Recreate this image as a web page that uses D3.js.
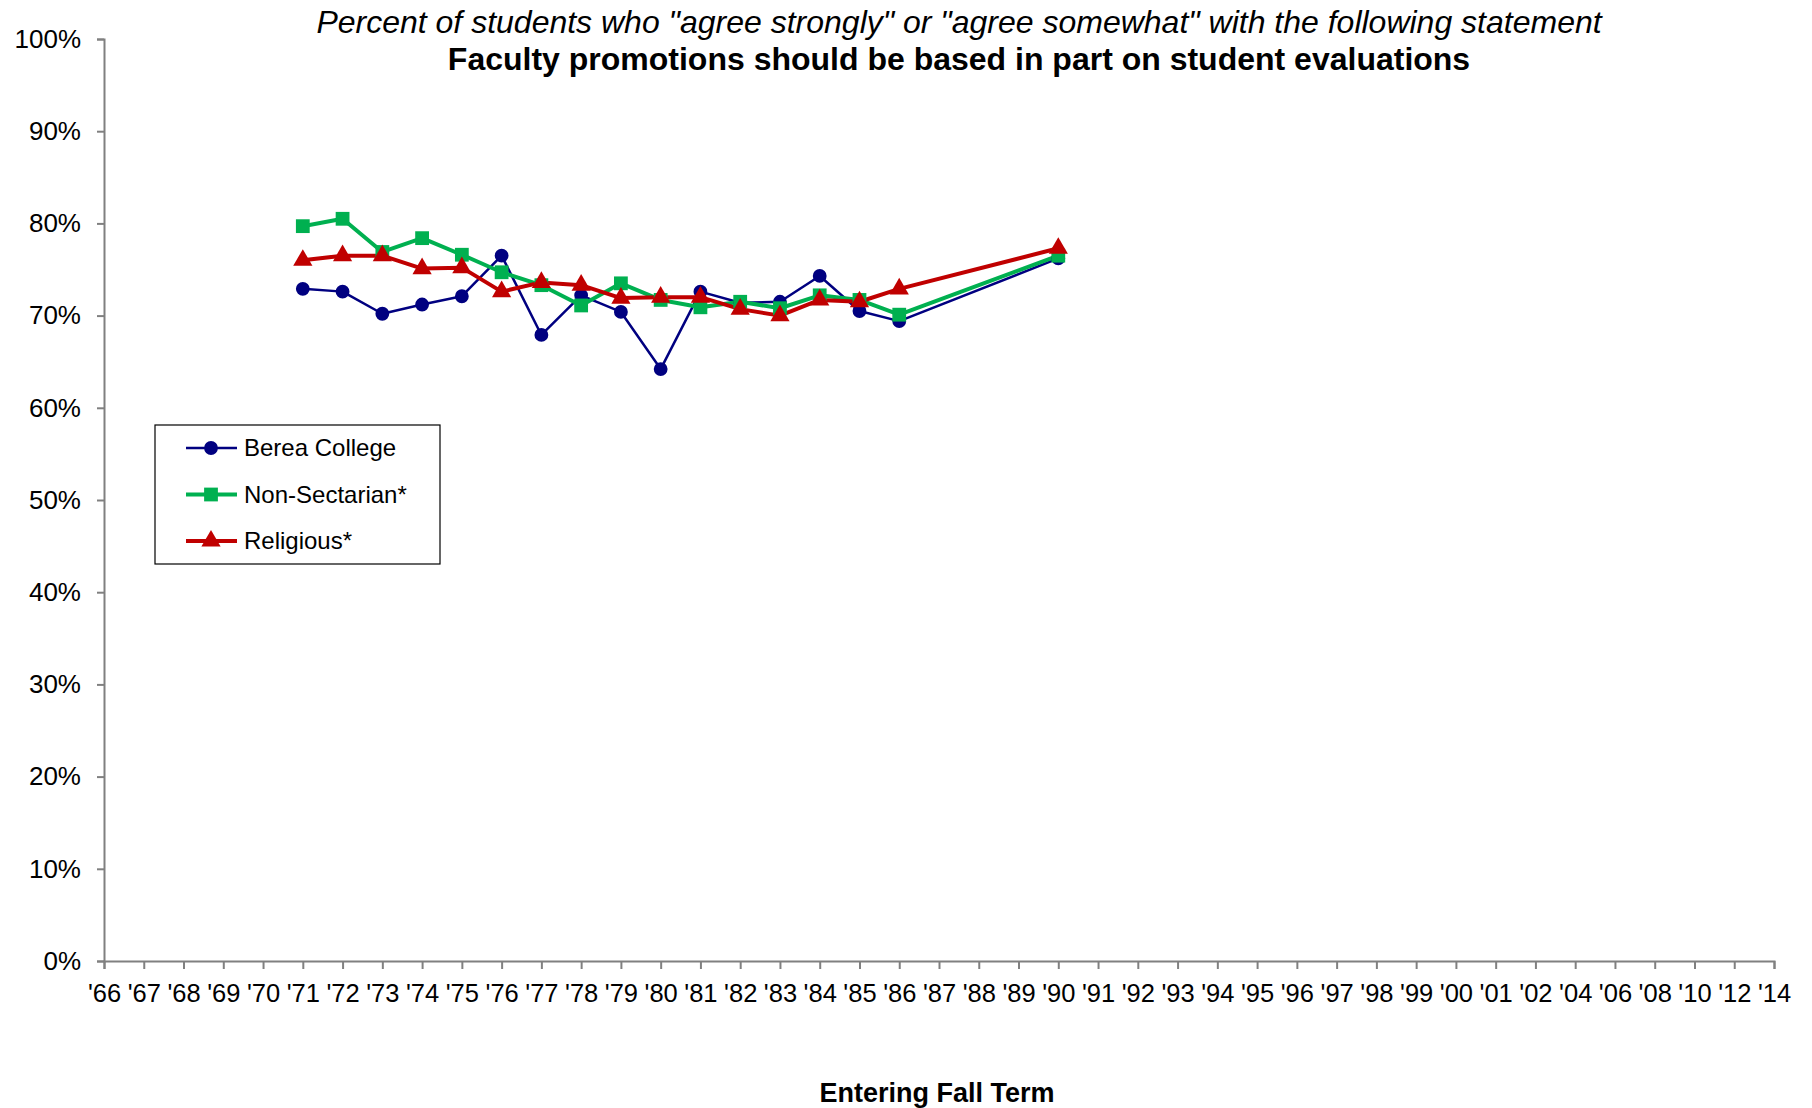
<!DOCTYPE html>
<html>
<head>
<meta charset="utf-8">
<script src="https://cdn.jsdelivr.net/npm/d3@7"></script>
<style>
  html, body { margin: 0; padding: 0; background: #fff; }
  svg { display: block; font-family: "Liberation Sans", Arial, sans-serif; }
</style>
</head>
<body>
<svg id="chart" width="1812" height="1108"></svg>
<script>
const categories = ["'66","'67","'68","'69","'70","'71","'72","'73","'74","'75","'76","'77","'78","'79","'80","'81","'82","'83","'84","'85","'86","'87","'88","'89","'90","'91","'92","'93","'94","'95","'96","'97","'98","'99","'00","'01","'02","'04","'06","'08","'10","'12","'14"];

const dataYears = ["'71","'72","'73","'74","'75","'76","'77","'78","'79","'80","'81","'82","'83","'84","'85","'86","'90"];
const bereaCollege = [72.9, 72.6, 70.2, 71.2, 72.1, 76.5, 67.9, 72.2, 70.4, 64.2, 72.6, 71.4, 71.5, 74.3, 70.5, 69.4, 76.2];
const nonSectarian = [79.7, 80.5, 76.9, 78.4, 76.6, 74.7, 73.3, 71.1, 73.5, 71.7, 70.9, 71.5, 70.8, 72.2, 71.7, 70.1, 76.5];
const religious    = [76.0, 76.5, 76.5, 75.1, 75.2, 72.6, 73.6, 73.3, 71.9, 72.0, 72.0, 70.7, 70.0, 71.7, 71.5, 72.9, 77.3];

const yTicks = [0, 10, 20, 30, 40, 50, 60, 70, 80, 90, 100];

const titleLine1 = 'Percent of students who "agree strongly" or "agree somewhat" with the following statement';
const titleLine2 = 'Faculty promotions should be based in part on student evaluations';
const xAxisTitle = 'Entering Fall Term';

const series = [
  { name: "Berea College", values: bereaCollege, color: "#000080", width: 2.5, symbol: d3.symbolCircle, size: 150 },
  { name: "Non-Sectarian*", values: nonSectarian, color: "#00B050", width: 4, symbol: d3.symbolSquare, size: 190 },
  { name: "Religious*", values: religious, color: "#C00000", width: 4, symbol: d3.symbolTriangle, size: 160 }
];

const svg = d3.select("#chart");
const margin = { left: 104, right: 38, top: 39, bottom: 147 };
const W = 1812, H = 1108;

const x = d3.scalePoint().domain(categories).range([margin.left, W - margin.right]).padding(0);
const y = d3.scaleLinear().domain([0, 100]).range([H - margin.bottom, margin.top]);

// axes
const yAxis = d3.axisLeft(y).tickValues(yTicks).tickFormat(d => d + "%").tickSize(7).tickPadding(16);
const gy = svg.append("g").attr("transform", `translate(${margin.left},0)`).call(yAxis);
gy.select(".domain").attr("stroke", "#808080").attr("stroke-width", 2);
gy.selectAll(".tick line").attr("stroke", "#808080").attr("stroke-width", 2);
gy.selectAll(".tick text").attr("font-size", 26).attr("fill", "#000").attr("font-family", "Liberation Sans, Arial, sans-serif");

const xAxis = d3.axisBottom(x).tickSize(8).tickPadding(15);
const gx = svg.append("g").attr("transform", `translate(0,${H - margin.bottom})`).call(xAxis);
gx.select(".domain").attr("stroke", "#808080").attr("stroke-width", 2);
gx.selectAll(".tick line").attr("stroke", "#808080").attr("stroke-width", 2);
gx.selectAll(".tick text").attr("font-size", 25.5).attr("fill", "#000").attr("font-family", "Liberation Sans, Arial, sans-serif");

// lines
const line = d3.line()
  .defined(d => d.v != null)
  .x(d => x(d.c))
  .y(d => y(d.v));

series.forEach(s => {
  const pts = dataYears.map((c, i) => ({ c, v: s.values[i] }));
  svg.append("path")
    .datum(pts)
    .attr("fill", "none")
    .attr("stroke", s.color)
    .attr("stroke-width", s.width)
    .attr("stroke-linejoin", "round")
    .attr("d", line);
});

series.forEach(s => {
  const pts = dataYears.map((c, i) => ({ c, v: s.values[i] }));
  const sym = d3.symbol().type(s.symbol).size(s.size);
  svg.append("g").selectAll("path")
    .data(pts)
    .join("path")
    .attr("transform", d => `translate(${x(d.c)},${y(d.v)})`)
    .attr("d", sym)
    .attr("fill", s.color);
});

// titles
svg.append("text")
  .attr("x", 959).attr("y", 33)
  .attr("text-anchor", "middle")
  .attr("font-size", 32)
  .attr("font-style", "italic")
  .text(titleLine1);
svg.append("text")
  .attr("x", 959).attr("y", 70)
  .attr("text-anchor", "middle")
  .attr("font-size", 32)
  .attr("font-weight", "bold")
  .text(titleLine2);

svg.append("text")
  .attr("x", 937).attr("y", 1102)
  .attr("text-anchor", "middle")
  .attr("font-size", 27)
  .attr("font-weight", "bold")
  .text(xAxisTitle);

// legend
const lg = svg.append("g").attr("transform", "translate(155,425)");
lg.append("rect").attr("width", 285).attr("height", 139).attr("fill", "#fff").attr("stroke", "#000").attr("stroke-width", 1.2);
series.forEach((s, i) => {
  const gy2 = 23 + i * 46.5;
  const item = lg.append("g").attr("transform", `translate(0,${gy2})`);
  item.append("line").attr("x1", 31).attr("x2", 82).attr("y1", 0).attr("y2", 0)
    .attr("stroke", s.color).attr("stroke-width", s.width);
  item.append("path").attr("transform", "translate(56,0)")
    .attr("d", d3.symbol().type(s.symbol).size(s.size)()).attr("fill", s.color);
  item.append("text").attr("x", 89).attr("y", 0).attr("dy", "0.35em")
    .attr("font-size", 24).text(s.name);
});
</script>
</body>
</html>
